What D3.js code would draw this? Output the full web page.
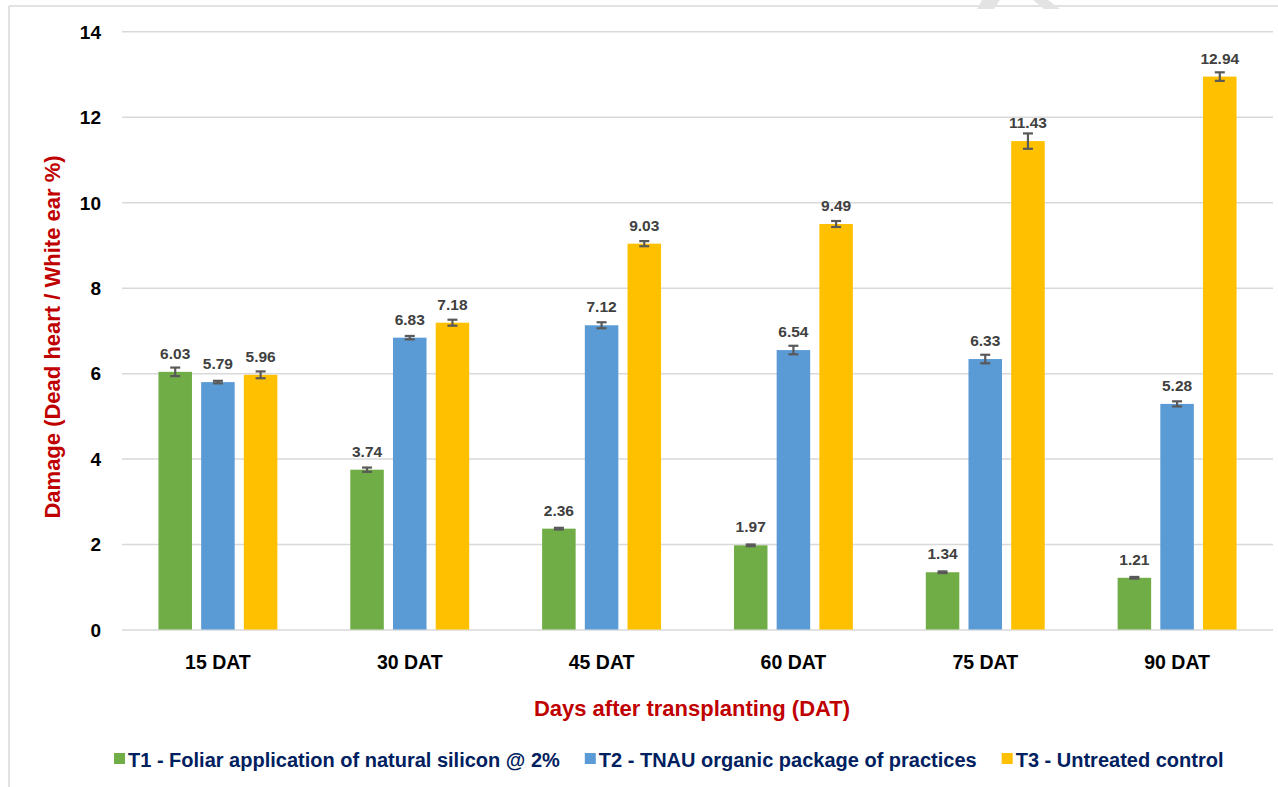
<!DOCTYPE html>
<html>
<head>
<meta charset="utf-8">
<script src="https://cdn.jsdelivr.net/npm/d3@7"></script>
<style>
  body { margin: 0; background: #fff; }
  text { font-family: "Liberation Sans", Arial, sans-serif; font-weight: bold; }
</style>
</head>
<body>
<svg width="1278" height="787"></svg>
<script>
// data
let categories = ["15 DAT", "30 DAT", "45 DAT", "60 DAT", "75 DAT", "90 DAT"];
let seriesNames = [
  "T1 - Foliar application of natural silicon @ 2%",
  "T2 - TNAU organic package of practices",
  "T3 - Untreated control"
];
let t1 = [6.03, 3.74, 2.36, 1.97, 1.34, 1.21];
let t2 = [5.79, 6.83, 7.12, 6.54, 6.33, 5.28];
let t3 = [5.96, 7.18, 9.03, 9.49, 11.43, 12.94];
let t1Err = [0.10, 0.05, 0.02, 0.02, 0.02, 0.02];
let t2Err = [0.03, 0.04, 0.07, 0.10, 0.10, 0.06];
let t3Err = [0.08, 0.07, 0.06, 0.07, 0.18, 0.10];
let yTicks = [0, 2, 4, 6, 8, 10, 12, 14];
let colors = ["#70ad47", "#5b9bd5", "#ffc000"];

let values = [t1, t2, t3];
let errors = [t1Err, t2Err, t3Err];

let svg = d3.select("svg");

// chart frame (only top and left edges visible)
svg.append("line").attr("x1", 9).attr("y1", 6).attr("x2", 1278).attr("y2", 6)
  .style("stroke", "#d9d9d9").style("stroke-width", 1.5);
svg.append("line").attr("x1", 9).attr("y1", 6).attr("x2", 9).attr("y2", 787)
  .style("stroke", "#d9d9d9").style("stroke-width", 1.5);

// faint watermark remnants at the top edge
svg.append("path").attr("d", "M982,0 L1000,0 L994,9 L977,9 Z").style("fill", "#e3e3e3");
svg.append("path").attr("d", "M1033,0 L1048,0 L1060,9 L1044,9 Z").style("fill", "#e3e3e3");

let plotLeft = 122, plotRight = 1273, plotTop = 31.3, plotBottom = 629.5;

let xScale = d3.scaleBand()
  .domain(categories)
  .range([plotLeft, plotRight]);

let xInner = d3.scaleBand()
  .domain([0, 1, 2])
  .range([0, 128.1])
  .paddingInner(0.215)
  .paddingOuter(0.1075);

let yScale = d3.scaleLinear()
  .domain([0, 14])
  .range([plotBottom, plotTop]);

// y axis with gridlines
let yAxis = svg.append("g")
  .attr("transform", "translate(" + plotLeft + ",0)")
  .call(d3.axisLeft(yScale).tickValues(yTicks).tickSize(-(plotRight - plotLeft)).tickPadding(21));
yAxis.select(".domain").remove();
yAxis.selectAll(".tick line").style("stroke", "#d9d9d9").style("stroke-width", 1.5);
yAxis.selectAll(".tick text")
  .style("font-size", "19px").style("font-family", "'Liberation Sans', Arial, sans-serif")
  .style("font-weight", "bold").style("fill", "#000")
  .attr("dy", "0.36em");

// bars
let groups = svg.selectAll(".grp")
  .data(categories)
  .enter()
  .append("g")
  .attr("class", "grp")
  .attr("transform", d => "translate(" + (xScale(d) + xScale.bandwidth() / 2 - 64.05) + ",0)");

groups.each(function(cat, ci) {
  let g = d3.select(this);
  let rows = values.map((v, si) => ({ s: si, v: v[ci], e: errors[si][ci] }));

  g.selectAll("rect")
    .data(rows)
    .enter()
    .append("rect")
    .attr("x", d => xInner(d.s))
    .attr("y", d => yScale(d.v))
    .attr("width", xInner.bandwidth())
    .attr("height", d => yScale(0) - yScale(d.v))
    .style("fill", d => colors[d.s]);

  // error bars
  let eb = g.selectAll(".err")
    .data(rows)
    .enter()
    .append("g")
    .attr("class", "err")
    .style("stroke", "#595959")
    .style("stroke-width", 2.2);
  eb.append("line")
    .attr("x1", d => xInner(d.s) + xInner.bandwidth() / 2)
    .attr("x2", d => xInner(d.s) + xInner.bandwidth() / 2)
    .attr("y1", d => yScale(d.v + d.e))
    .attr("y2", d => yScale(d.v - d.e));
  eb.append("line")
    .attr("x1", d => xInner(d.s) + xInner.bandwidth() / 2 - 5)
    .attr("x2", d => xInner(d.s) + xInner.bandwidth() / 2 + 5)
    .attr("y1", d => yScale(d.v + d.e))
    .attr("y2", d => yScale(d.v + d.e));
  eb.append("line")
    .attr("x1", d => xInner(d.s) + xInner.bandwidth() / 2 - 5)
    .attr("x2", d => xInner(d.s) + xInner.bandwidth() / 2 + 5)
    .attr("y1", d => yScale(d.v - d.e))
    .attr("y2", d => yScale(d.v - d.e));

  // value labels
  g.selectAll(".lbl")
    .data(rows)
    .enter()
    .append("text")
    .attr("class", "lbl")
    .attr("x", d => xInner(d.s) + xInner.bandwidth() / 2)
    .attr("y", d => yScale(d.v) - 13)
    .attr("text-anchor", "middle")
    .style("font-size", "15.5px")
    .style("fill", "#404040")
    .text(d => d.v.toFixed(2));
});

// x axis labels
let xAxis = svg.append("g")
  .attr("transform", "translate(0," + plotBottom + ")")
  .call(d3.axisBottom(xScale).tickSize(0));
xAxis.select(".domain").remove();
xAxis.selectAll(".tick text")
  .attr("y", 39.5).attr("dy", 0)
  .style("font-size", "19.5px").style("font-family", "'Liberation Sans', Arial, sans-serif")
  .style("font-weight", "bold").style("fill", "#000");

// axis titles
svg.append("text")
  .attr("x", 692).attr("y", 716)
  .attr("text-anchor", "middle")
  .style("font-size", "22px").style("fill", "#c00000")
  .text("Days after transplanting (DAT)");

svg.append("text")
  .attr("transform", "translate(60,337) rotate(-90)")
  .attr("text-anchor", "middle")
  .style("font-size", "22px").style("fill", "#c00000")
  .text("Damage (Dead heart / White ear %)");

// legend
let lx = 114;
seriesNames.forEach(function(name, i) {
  svg.append("rect")
    .attr("x", lx).attr("y", 753)
    .attr("width", 11).attr("height", 11)
    .style("fill", colors[i]);
  let t = svg.append("text")
    .attr("x", lx + 14).attr("y", 766.5)
    .style("font-size", "20px").style("fill", "#002060")
    .text(name);
  lx = lx + 14 + t.node().getComputedTextLength() + 25;
});
</script>
</body>
</html>
